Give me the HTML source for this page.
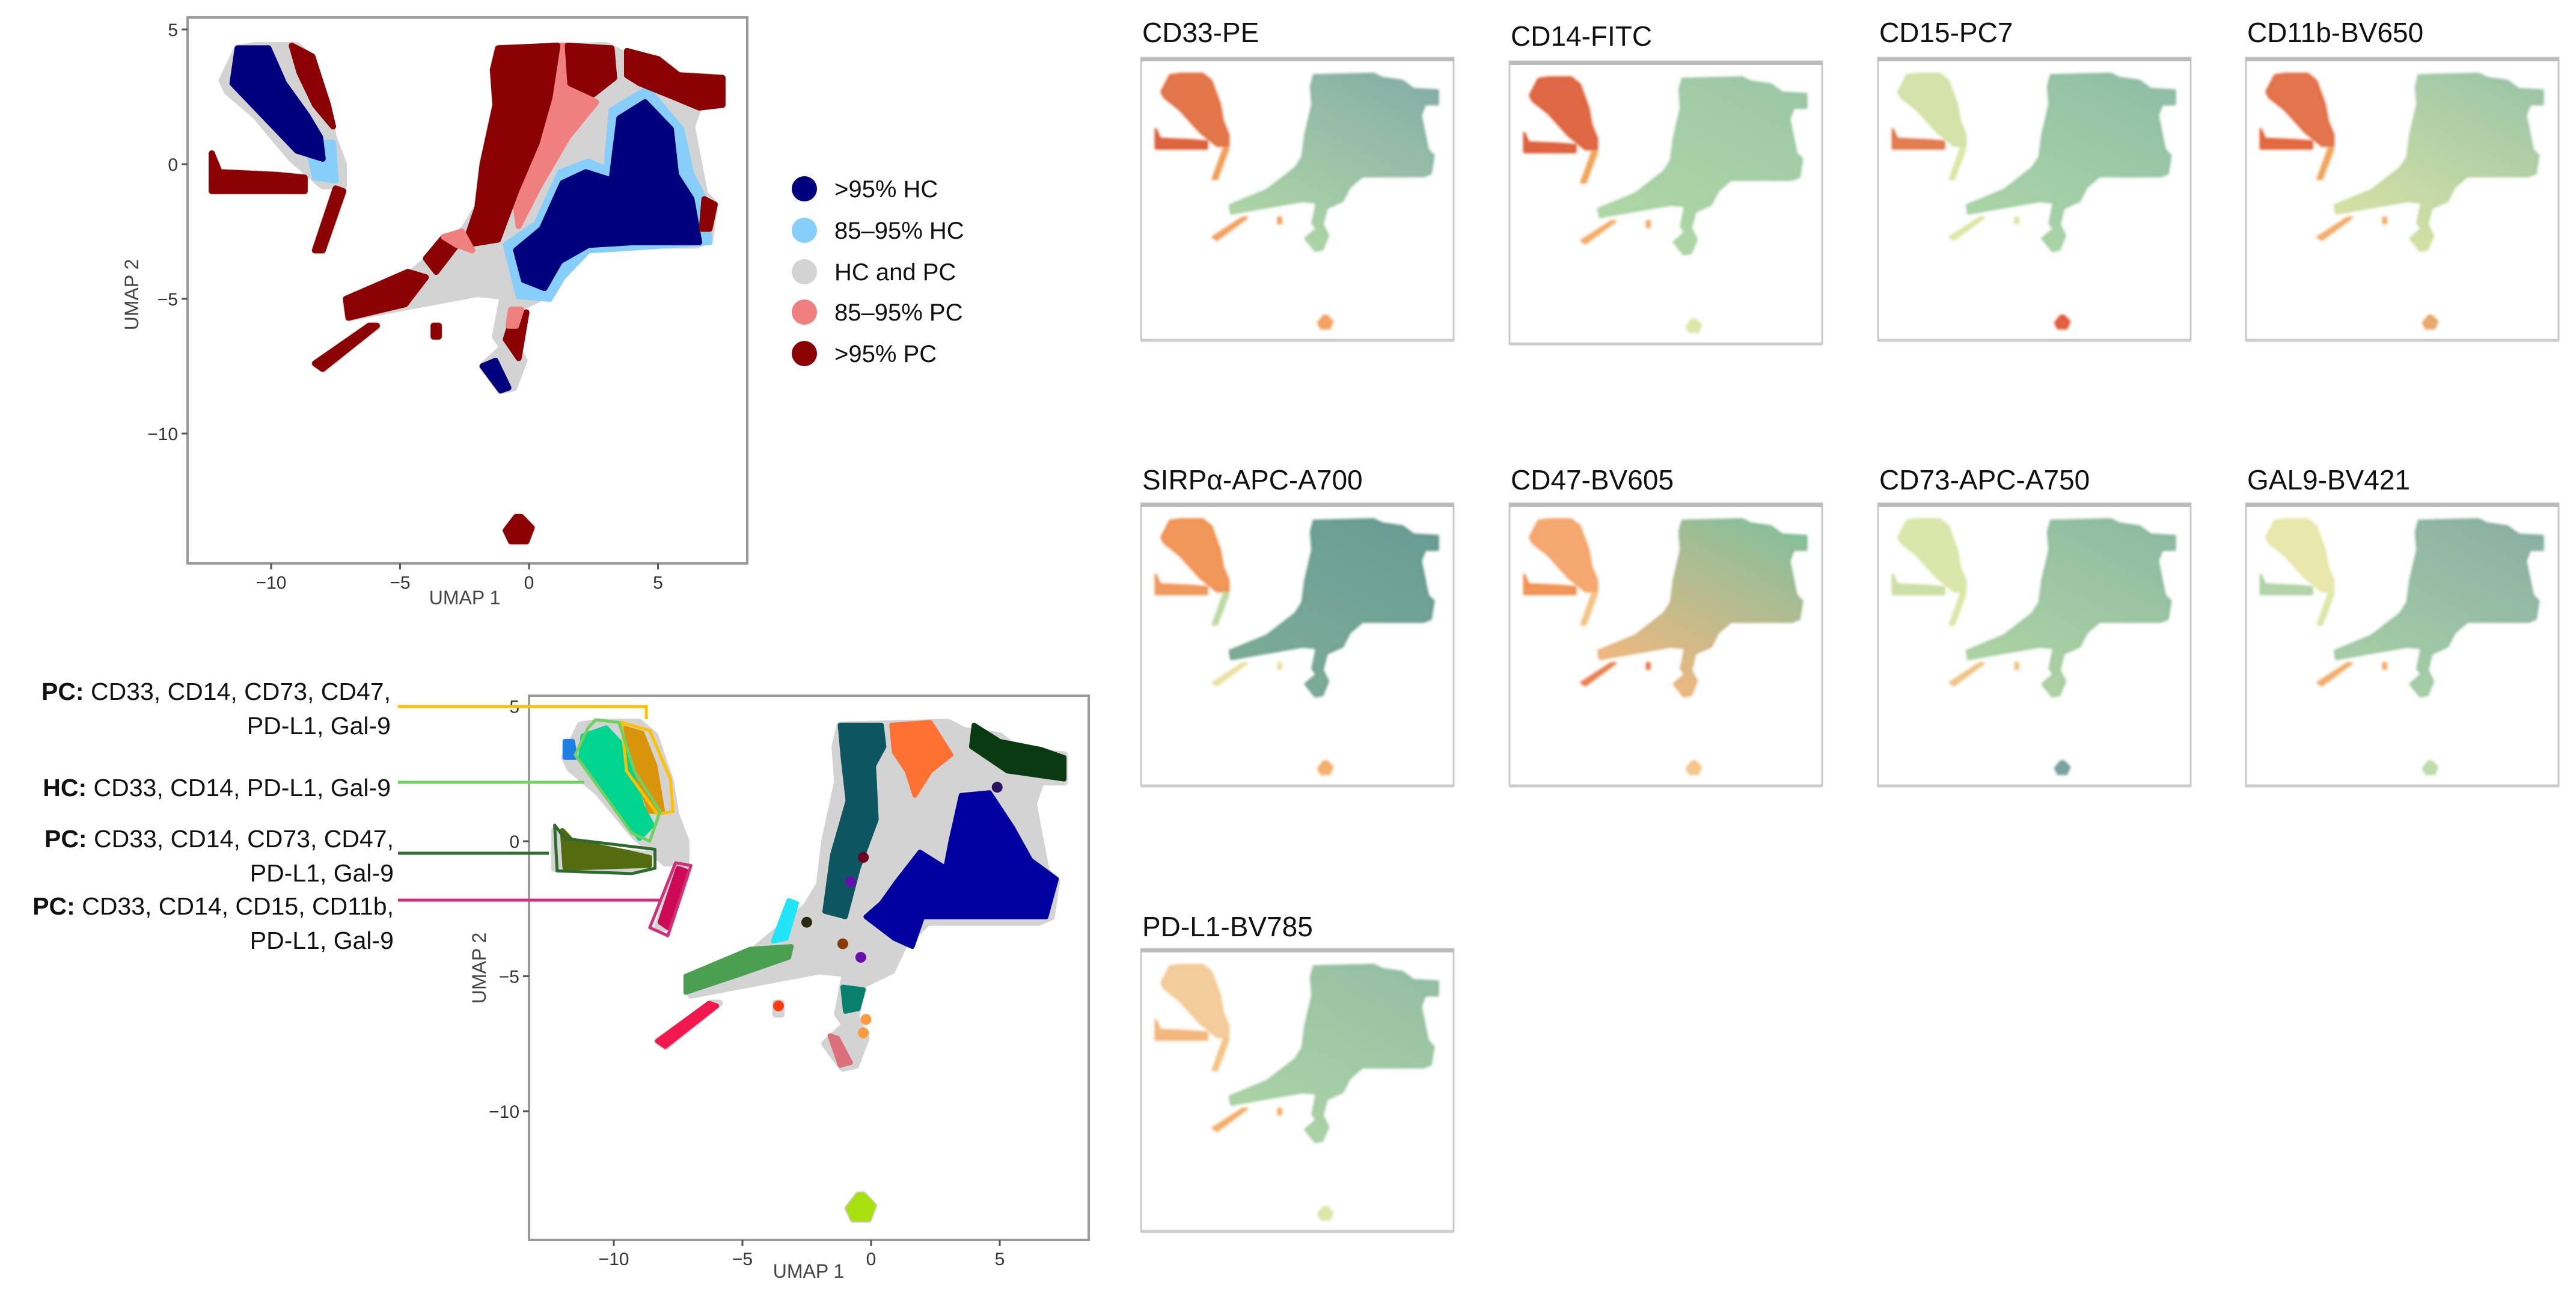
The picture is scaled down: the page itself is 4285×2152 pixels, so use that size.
<!DOCTYPE html>
<html><head><meta charset="utf-8">
<style>
html,body{margin:0;padding:0;background:#fff;}
svg{display:block;}
text{font-family:"Liberation Sans",sans-serif;}
.ttl{font-family:"Liberation Sans Narrow","Liberation Sans",sans-serif;}
</style></head>
<body>
<svg id="fig" width="4285" height="2152" viewBox="0 0 4285 2152" xmlns="http://www.w3.org/2000/svg">
<defs id="defs"><filter id="soft" x="-5%" y="-5%" width="110%" height="110%"><feGaussianBlur stdDeviation="2"/></filter></defs>
</svg>
<script>
// ---- data (UMAP coordinates) ----
const xTicks = [-10, -5, 0, 5];
const yTicks = [5, 0, -5, -10];
const legendLabels = [">95% HC", "85–95% HC", "HC and PC", "85–95% PC", ">95% PC"];
const legendColors = ["#00007f", "#87cefa", "#d3d3d3", "#f08080", "#8b0000"];

const shapeLeftBlob = [[-11.9,3.1],[-11.3,4.3],[-10.6,4.4],[-9.0,4.4],[-8.4,3.9],[-7.8,2.2],[-7.6,1.0],[-7.2,0],[-7.2,-0.8],[-8.0,-0.8],[-9.2,0.2],[-10.6,1.8],[-11.7,2.7]];
const shapeStreak = [[-12.3,0.4],[-12.0,-0.3],[-9.8,-0.4],[-8.7,-0.5],[-8.7,-1.0],[-12.3,-1.0]];
const shapeTail = [[-7.5,-0.9],[-7.2,-1.0],[-8.0,-3.2],[-8.3,-3.2]];
const shapeMain = [[-1.2,4.3],[3.0,4.4],[3.6,4.1],[5.0,3.9],[5.8,3.3],[7.5,3.2],[7.5,2.2],[6.6,2.2],[6.3,1.4],[6.8,-1.1],[7.2,-1.5],[7.0,-2.8],[6.5,-3.0],[4.3,-3.0],[2.2,-3.0],[1.3,-3.8],[0.8,-4.8],[-0.3,-5.3],[-0.6,-6.5],[-0.2,-7.3],[-0.6,-8.3],[-1.1,-8.4],[-1.8,-7.5],[-1.0,-6.8],[-1.3,-6.4],[-1.0,-4.9],[-2.0,-4.8],[-4.8,-5.3],[-7.0,-5.7],[-7.1,-5.1],[-4.5,-4.0],[-3.5,-3.2],[-2.5,-2.4],[-2.0,-1.6],[-1.8,0],[-1.3,2.2],[-1.4,3.5]];
const shapeDiag = [[-6.2,-6.0],[-5.9,-6.0],[-8.0,-7.6],[-8.3,-7.4]];
const shapeIsland = [[-0.9,-13.6],[-0.5,-13.1],[-0.3,-13.1],[0.1,-13.5],[-0.1,-14.0],[-0.7,-14.0]];
const shapeDot = [[-3.7,-6.0],[-3.5,-6.0],[-3.5,-6.4],[-3.7,-6.4]];
const baseShapes = [shapeLeftBlob, shapeStreak, shapeTail, shapeMain, shapeDiag, shapeIsland, shapeDot];

// top plot: category regions [color index, polygon]
const catRegions = [
 [1, [[3.2,2.0],[4.6,2.8],[5.9,1.3],[6.3,-0.4],[6.8,-1.3],[7.0,-2.9],[4.0,-3.1],[2.3,-3.2],[1.3,-4.2],[0.8,-5.0],[-0.4,-4.9],[-0.9,-3.0],[0.3,-2.2],[1.2,-0.3],[2.3,0.1],[3.0,-0.2]]],
 [0, [[3.5,1.7],[4.5,2.3],[5.5,1.3],[5.7,-0.4],[6.3,-1.3],[6.6,-2.9],[4.0,-2.9],[2.3,-3.0],[1.2,-3.6],[0.6,-4.6],[-0.2,-4.3],[-0.5,-3.2],[0.5,-2.4],[1.3,-0.7],[2.2,-0.3],[3.2,-0.6]]],
 [3, [[0.9,4.4],[1.5,4.4],[1.7,2.8],[2.6,2.3],[1.5,1.0],[0.4,-0.8],[-0.4,-2.3],[-0.6,-1.0],[0.3,0.8],[0.8,2.5]]],
 [4, [[-1.2,4.3],[1.1,4.4],[0.8,2.5],[0.3,0.8],[-0.5,-1.0],[-1.2,-2.8],[-2.5,-3.0],[-2.0,-1.6],[-1.8,0],[-1.3,2.2],[-1.4,3.5]]],
 [4, [[1.5,4.4],[3.2,4.3],[3.3,3.2],[2.5,2.6],[1.6,3.0]]],
 [4, [[3.8,4.2],[5.0,3.9],[5.8,3.3],[7.5,3.2],[7.5,2.2],[6.6,2.1],[5.6,2.5],[4.3,3.0],[3.8,3.3]]],
 [4, [[-7.0,-5.7],[-7.1,-5.0],[-4.7,-4.0],[-4.0,-4.2],[-4.8,-5.2]]],
 [4, [[-4.0,-3.5],[-3.3,-2.7],[-2.8,-3.0],[-3.6,-4.0]]],
 [3, [[-3.3,-2.7],[-2.6,-2.5],[-2.2,-3.2],[-2.8,-3.0]]],
 [4, [[6.8,-1.3],[7.2,-1.5],[7.0,-2.4],[6.7,-2.4]]],
 [0, [[-1.8,-7.5],[-1.3,-7.3],[-0.8,-8.3],[-1.1,-8.4]]],
 [4, [[-0.6,-5.6],[-0.1,-5.5],[-0.4,-7.2],[-0.9,-6.5]]],
 [3, [[-0.7,-5.4],[-0.3,-5.4],[-0.5,-6.0],[-0.8,-6.0]]],
 [1, [[-8.6,0.8],[-7.6,0.8],[-7.5,-0.6],[-8.3,-0.5]]],
 [0, [[-11.3,4.3],[-10.1,4.3],[-9.5,3.0],[-8.6,1.8],[-8.1,1.0],[-8.0,0.2],[-9.0,0.5],[-10.5,2.0],[-11.5,3.0]]],
 [4, [[-9.2,4.4],[-8.4,4.0],[-7.8,2.2],[-7.6,1.4],[-8.3,2.2],[-8.9,3.4]]],
 [4, shapeStreak], [4, shapeTail], [4, shapeDiag], [4, shapeIsland], [4, shapeDot]
];

// bottom plot: cluster regions [color, polygon]
const clusterColors = ["#00d48e","#d8940a","#556b10","#cc0a55","#0d5560","#ff7033","#0a3a10","#0000a0","#22e4f8","#4aa050","#f0184f","#08806e","#d9707a","#a8e010","#1e7fe0"];
const clusterPolys = [
 [[-11.2,3.9],[-10.3,4.2],[-9.5,3.4],[-8.9,1.3],[-8.5,0.6],[-9.0,0.1],[-10.0,1.4],[-11.3,3.0]],
 [[-9.6,4.2],[-8.9,4.0],[-8.4,2.8],[-8.1,1.1],[-8.6,1.1],[-9.1,2.5]],
 [[-12.0,0.4],[-11.6,0.0],[-9.5,-0.4],[-8.6,-0.6],[-8.6,-0.9],[-11.9,-1.0]],
 [[-7.5,-1.0],[-7.2,-1.1],[-7.9,-3.2],[-8.2,-3.0]],
 [[-1.2,4.3],[0.4,4.3],[0.5,3.5],[0.1,2.8],[0.2,0.8],[-0.5,-1.0],[-1.0,-2.8],[-1.8,-2.6],[-1.5,-0.5],[-0.9,1.5],[-1.1,3.2]],
 [[0.8,4.3],[2.3,4.4],[3.1,3.2],[2.3,2.6],[1.7,1.7],[1.4,2.6],[0.9,3.3]],
 [[4.0,4.3],[5.0,3.7],[6.6,3.4],[7.5,3.1],[7.5,2.3],[5.3,2.6],[3.9,3.5]],
 [[3.5,1.7],[4.6,1.8],[5.5,0.5],[6.2,-0.7],[7.2,-1.4],[6.8,-2.8],[4.5,-2.8],[2.0,-2.8],[1.6,-3.9],[0.9,-3.6],[-0.2,-2.8],[0.4,-2.3],[1.0,-1.5],[1.9,-0.4],[2.9,-1.0],[3.1,0.0]],
 [[-3.2,-2.2],[-2.9,-2.3],[-3.3,-3.6],[-3.8,-3.7]],
 [[-7.2,-5.6],[-7.2,-5.0],[-4.7,-4.0],[-3.1,-3.9],[-3.2,-4.3],[-5.0,-4.9]],
 [[-6.3,-6.0],[-6.0,-6.1],[-8.0,-7.6],[-8.3,-7.4]],
 [[-1.1,-5.4],[-0.3,-5.5],[-0.5,-6.2],[-1.0,-6.3]],
 [[-1.6,-7.2],[-1.3,-7.3],[-0.8,-8.2],[-1.2,-8.3]],
 shapeIsland,
 [[-11.9,3.7],[-11.6,3.7],[-11.5,3.1],[-11.9,3.1]]
];
const dotColors = ["#6a0dad","#6a0dad","#8b3a0a","#2a2a10","#6b0020","#ff9a40","#ff9a40","#2a1060","#ff3a10"];
const dotPos = [[-0.8,-1.5],[-0.4,-4.3],[-1.1,-3.8],[-2.5,-3.0],[-0.3,-0.6],[-0.2,-6.6],[-0.3,-7.1],[4.9,2.0],[-3.6,-6.1]];

const outlineColors = ["#ffc000","#70d060","#2e6b2e","#d0307a"];
const outlinePolys = [
 [[-9.7,4.4],[-8.6,4.1],[-7.8,2.3],[-7.7,1.1],[-8.3,1.0],[-9.5,2.6]],
 [[-10.7,4.5],[-9.8,4.4],[-9.2,2.6],[-8.2,1.1],[-8.6,0.0],[-9.3,0.3],[-11.5,3.2],[-11.0,4.2]],
 [[-12.3,0.6],[-11.9,0.1],[-8.4,-0.3],[-8.4,-1.0],[-9.3,-1.2],[-12.2,-1.1]],
 [[-7.6,-0.8],[-7.0,-0.9],[-7.9,-3.5],[-8.6,-3.2]]
];

// marker panels
const markerNames = ["CD33-PE","CD14-FITC","CD15-PC7","CD11b-BV650","SIRPα-APC-A700","CD47-BV605","CD73-APC-A750","GAL9-BV421","PD-L1-BV785"];
// per-panel colors: [leftBlob, streak, tail, mainTop, mainBottom, diag, island]
const markerColors = [
 ["#e06838","#d9552e","#f09a50","#7aa79e","#a9d49c","#f39a55","#f39a55"],
 ["#dc5a30","#d9552e","#f0a050","#92c29c","#a8d49c","#f3a860","#d8e6a0"],
 ["#cfe0a0","#e07040","#d8e6a0","#84b89c","#a4d29e","#d8e6a0","#e0502e"],
 ["#e0663a","#e05a30","#f0a050","#92c09e","#d6e09a","#f3a860","#e8a060"],
 ["#f08c48","#f09050","#b8d8a0","#5a9288","#6fa48e","#e8e0a0","#f3a860"],
 ["#f4a060","#ee8c48","#f3c080","#7ab890","#f6b070","#e87a45","#f3c080"],
 ["#d6e4a2","#c8dca0","#d8e6a0","#82b498","#a8d09a","#eec080","#6a9a98"],
 ["#e6e6a4","#a8d0a0","#d8e6a0","#7ea89a","#a0cc9c","#f2a860","#b8d8a0"],
 ["#f2c890","#f3b070","#f3c080","#8ab89a","#a4d09c","#f3a860","#d8e6a0"]
];

// ---- helpers ----
const svg = document.getElementById('fig');
const defs = document.getElementById('defs');
const NS = "http://www.w3.org/2000/svg";
function mk(tag, attrs, parent){
  const el = document.createElementNS(NS, tag);
  for (const k in attrs) el.setAttribute(k, attrs[k]);
  (parent||svg).appendChild(el);
  return el;
}
function axisFns(x0, kx, y0, ky){
  return {sx: u => x0 + u*kx, sy: v => y0 - v*ky};
}
function pathOf(poly, ax){
  return poly.map((p,i)=>(i?'L':'M')+ax.sx(p[0]).toFixed(1)+','+ax.sy(p[1]).toFixed(1)).join('')+'Z';
}
function drawAxes(g, ax, box, xt, yt, fs){
  const r = mk('rect',{x:box[0],y:box[1],width:box[2]-box[0],height:box[3]-box[1],fill:'none',stroke:'#9a9a9a','stroke-width':4},g);
  
  
  xt.forEach(t=>{
    const x = ax.sx(t);
    mk('line',{x1:x,x2:x,y1:box[3],y2:box[3]+10,stroke:'#555','stroke-width':3},g);
    const tx = mk('text',{x:x,y:box[3]+42,'text-anchor':'middle','font-size':fs,fill:'#333'},g);
    tx.textContent = (t<0?'−':'')+Math.abs(t);
    
    
  });
  yt.forEach(t=>{
    const y = ax.sy(t);
    mk('line',{x1:box[0]-10,x2:box[0],y1:y,y2:y,stroke:'#555','stroke-width':3},g);
    const tx = mk('text',{x:box[0]-16,y:y+11,'text-anchor':'end','font-size':fs,fill:'#333'},g);
    tx.textContent = (t<0?'−':'')+Math.abs(t);
    
    
  });
}

// ---- Top plot ----
(function(){
  const g = mk('g',{});
  
  
  const ax = axisFns(880, 42.9, 273, 44.8);
  baseShapes.forEach(s=>{
    const p = mk('path',{d:pathOf(s,ax),fill:'#d3d3d3',stroke:'#d3d3d3','stroke-width':12,'stroke-linejoin':'round'},g);
    
    
  });
  catRegions.forEach(c=>{
    const p = mk('path',{d:pathOf(c[1],ax),fill:legendColors[c[0]],stroke:legendColors[c[0]],'stroke-width':10,'stroke-linejoin':'round'},g);
    
    
  });
  drawAxes(g, ax, [312,29,1243,937], xTicks, yTicks, 30);
  const xl = mk('text',{x:773,y:1005,'text-anchor':'middle','font-size':32,fill:'#444'},g);
  xl.textContent='UMAP 1';
  
  
  const yl = mk('text',{x:0,y:0,'text-anchor':'middle','font-size':32,fill:'#444',transform:'translate(230,490) rotate(-90)'},g);
  yl.textContent='UMAP 2';
  
  
  const ly = [314,383,452,519,588];
  legendLabels.forEach((lab,i)=>{
    const c = mk('circle',{cx:1338,cy:ly[i],r:21,fill:legendColors[i]},g);
    
    
    const t = mk('text',{x:1388,y:ly[i]+14,'font-size':40,fill:'#111'},g);
    t.textContent = lab;
    
    
  });
})();

// ---- Bottom plot ----
(function(){
  const g = mk('g',{});
  
  
  const ax = axisFns(1449, 42.8, 1399, 44.9);
  baseShapes.forEach(s=>{
    const p = mk('path',{d:pathOf(s,ax),fill:'#d3d3d3',stroke:'#d3d3d3','stroke-width':12,'stroke-linejoin':'round'},g);
    
    
  });
  clusterPolys.forEach((poly,i)=>{
    const p = mk('path',{d:pathOf(poly,ax),fill:clusterColors[i],stroke:clusterColors[i],'stroke-width':8,'stroke-linejoin':'round'},g);
    
    
  });
  dotPos.forEach((d,i)=>{
    const c = mk('circle',{cx:ax.sx(d[0]),cy:ax.sy(d[1]),r:9,fill:dotColors[i]},g);
    
    
  });
  outlinePolys.forEach((poly,i)=>{
    const p = mk('path',{d:pathOf(poly,ax),fill:'none',stroke:outlineColors[i],'stroke-width':5,'stroke-linejoin':'round'},g);
    
    
  });
  drawAxes(g, ax, [880,1157,1811,2062], xTicks, yTicks, 30);
  const xl = mk('text',{x:1345,y:2125,'text-anchor':'middle','font-size':32,fill:'#444'},g);
  xl.textContent='UMAP 1';
  
  
  const yl = mk('text',{x:0,y:0,'text-anchor':'middle','font-size':32,fill:'#444',transform:'translate(808,1610) rotate(-90)'},g);
  yl.textContent='UMAP 2';
  
  
  const lines = [
    ['#ffc000','M662,1175 L1075,1175 L1075,1196'],
    ['#70d060','M662,1301 L972,1301'],
    ['#2e6b2e','M662,1419 L913,1419'],
    ['#d0307a','M662,1497 L1097,1497']
  ];
  lines.forEach(l=>{
    const p = mk('path',{d:l[1],fill:'none',stroke:l[0],'stroke-width':5},g);
    
    
  });
})();

// ---- marker panels ----
(function(){
  const colX = [1898, 2511, 3124, 3736];
  const rowY = [96, 837, 1578];
  const titleDy = [-22, -19, -17];
  markerNames.forEach((name,i)=>{
    const col = i%4, row = Math.floor(i/4);
    const bx = colX[col], by = rowY[row] + (col===1&&row===0?6:0);
    const W = 520, H = 470;
    const g = mk('g',{});
    
    
    const t = mk('text',{x:bx+2,y:by+titleDy[row]-4,'font-size':46,fill:'#111','class':'ttl'},g);
    t.textContent = name;
    
    
    const r = mk('rect',{x:bx,y:by,width:W,height:H,fill:'#fff',stroke:'#c8c8c8','stroke-width':3},g);
    
    
    mk('line',{x1:bx,x2:bx+W,y1:by+3,y2:by+3,stroke:'#bbb','stroke-width':6},g);
    mk('line',{x1:bx,x2:bx+W,y1:by+H,y2:by+H,stroke:'#ccc','stroke-width':5},g);
    const ax = axisFns(bx+316, 23.7, by+128, 23.0);
    const c = markerColors[i];
    const gid = 'grad'+i;
    const lg = mk('linearGradient',{id:gid,x1:'0.8',y1:'0',x2:'0.2',y2:'1'},defs);
    mk('stop',{offset:'0',"stop-color":c[3]},lg);
    mk('stop',{offset:'1',"stop-color":c[4]},lg);
    const fills = [c[0], c[1], c[2], 'url(#'+gid+')', c[5], c[6], c[5]];
    const sg = mk('g',{filter:'url(#soft)'},g);
    baseShapes.forEach((s,k)=>{
      const p = mk('path',{d:pathOf(s,ax),fill:fills[k],stroke:fills[k],'stroke-width':4,'stroke-linejoin':'round','fill-opacity':0.9,'stroke-opacity':0.9},sg);
      
      
    });
  });
})();
</script>

<div style="position:absolute;left:0;top:0;width:660px;height:2152px;font-family:'Liberation Sans Narrow','Liberation Sans',sans-serif;font-size:41px;color:#111;text-align:right;">
  <div style="position:absolute;right:10px;top:1122px;line-height:57px;white-space:nowrap;"><b>PC:</b> CD33, CD14, CD73, CD47,<br>PD-L1, Gal-9</div>
  <div style="position:absolute;right:10px;top:1282px;line-height:57px;white-space:nowrap;"><b>HC:</b> CD33, CD14, PD-L1, Gal-9</div>
  <div style="position:absolute;right:5px;top:1367px;line-height:57px;white-space:nowrap;"><b>PC:</b> CD33, CD14, CD73, CD47,<br>PD-L1, Gal-9</div>
  <div style="position:absolute;right:5px;top:1479px;line-height:57px;white-space:nowrap;"><b>PC:</b> CD33, CD14, CD15, CD11b,<br>PD-L1, Gal-9</div>
</div>
</body></html>
